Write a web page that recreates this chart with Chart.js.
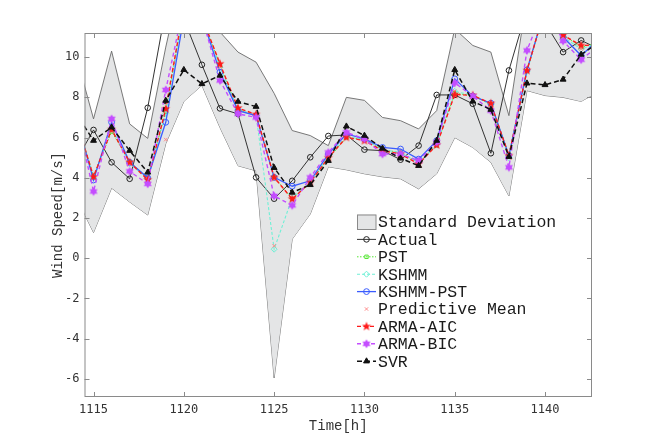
<!DOCTYPE html>
<html>
<head>
<meta charset="utf-8">
<script src="https://cdn.jsdelivr.net/npm/chart.js@4.4.0/dist/chart.umd.min.js"></script>
<style>
  html, body { margin: 0; padding: 0; background: #ffffff; }
  #windChart { display: block; }
</style>
</head>
<body>
<canvas id="windChart" width="654" height="446"></canvas>
<script>
  // Hours shown on the x axis (first and last lie just outside the view and get clipped)
  const hours = [1114, 1115, 1116, 1117, 1118, 1119, 1120, 1121, 1122, 1123,
                 1124, 1125, 1126, 1127, 1128, 1129, 1130, 1131, 1132, 1133,
                 1134, 1135, 1136, 1137, 1138, 1139, 1140, 1141, 1142, 1143];

  const actual   = [4.8, 6.38, 4.77, 3.95, 7.48, 12.4, 11.9, 9.62, 7.45, 7.18,
                    4.02, 2.96, 3.85, 5.02, 6.08, 6.13, 5.4, 5.35, 4.9, 5.6,
                    8.12, 8.12, 7.68, 5.22, 9.34, 12.4, 11.7, 10.25, 10.83, 10.4];
  const pst      = [7.0, 4.1, 6.3, 4.8, 4.0, 7.3, 12.4, 12.0, 9.6, 7.4,
                    7.1, 4.05, 2.95, 3.8, 4.95, 6.0, 5.9, 5.4, 5.25, 4.75,
                    5.6, 8.2, 8.1, 7.65, 5.15, 9.3, 12.4, 11.1, 10.5, 10.7];
  const kshmm    = [7.0, 4.0, 6.5, 4.7, 3.95, 7.2, 12.4, 12.0, 9.5, 7.4,
                    7.1, 0.45, 3.0, 3.8, 5.05, 6.05, 5.9, 5.4, 5.25, 4.75,
                    5.65, 8.3, 8.1, 7.65, 5.0, 9.3, 12.4, 11.0, 10.4, 10.7];
  const kshmmPst = [7.1, 3.89, 6.76, 4.77, 4.0, 6.76, 12.0, 12.0, 9.25, 7.34,
                    7.09, 4.02, 3.58, 3.85, 5.18, 6.18, 5.93, 5.51, 5.43, 4.93,
                    5.85, 8.92, 8.06, 7.71, 5.1, 9.37, 12.4, 11.0, 10.08, 10.9];
  const predMean = [7.0, 4.0, 6.5, 4.7, 3.95, 5.9, 12.4, 12.0, 9.5, 7.4,
                    7.1, 0.62, 3.0, 3.8, 5.05, 6.05, 5.9, 5.4, 5.25, 4.75,
                    5.65, 8.3, 8.1, 7.65, 5.0, 9.3, 12.4, 11.0, 10.4, 10.7];
  const armaAic  = [7.0, 4.05, 6.4, 4.77, 3.9, 7.43, 12.5, 12.0, 9.67, 7.47,
                    7.15, 4.02, 2.94, 3.77, 5.0, 6.01, 5.85, 5.35, 5.18, 4.69,
                    5.63, 8.14, 8.1, 7.7, 5.1, 9.34, 12.4, 11.1, 10.58, 10.6];
  const armaBic  = [7.3, 3.32, 6.93, 4.32, 3.7, 8.37, 12.6, 12.0, 8.84, 7.18,
                    7.0, 3.1, 2.63, 4.02, 5.26, 6.26, 5.93, 5.18, 5.18, 4.85,
                    5.77, 8.72, 8.06, 7.34, 4.52, 10.33, 12.6, 10.8, 9.87, 10.6];
  const svr      = [7.25, 5.85, 6.51, 5.35, 4.27, 7.84, 9.37, 8.67, 9.09, 7.79,
                    7.54, 4.5, 3.27, 3.65, 4.85, 6.56, 6.1, 5.46, 4.97, 4.6,
                    5.85, 9.37, 7.8, 7.39, 5.05, 8.7, 8.62, 8.89, 10.13, 10.75];

  // Standard deviation band (upper / lower edge)
  const sdUpper  = [10.2, 6.93, 10.3, 6.68, 5.96, 10.5, 14.5, 13.5, 11.25, 10.25,
                    9.75, 8.2, 6.35, 6.1, 5.6, 8.0, 7.85, 7.0, 6.84, 6.43,
                    7.34, 11.4, 10.58, 10.25, 7.09, 13.0, 13.5, 13.5, 13.5, 13.5];
  const sdLower  = [3.1, 1.28, 3.49, 2.8, 2.15, 5.7, 7.8, 8.6, 6.5, 4.6,
                    4.35, -5.95, 0.95, 2.2, 4.55, 4.4, 4.2, 4.05, 3.95, 3.45,
                    4.2, 6.0, 5.51, 4.77, 3.1, 8.34, 8.09, 8.0, 7.8, 8.3];

  const xTickStep = 5;
  const yTickStep = 2;

  function toPoints(values) {
    return hours.map((h, i) => ({ x: h, y: values[i] }));
  }

  // filled star markers (ARMA-AIC five point, ARMA-BIC six point)
  function starMarker(spikes, outerR, innerR, color) {
    const size = Math.ceil(outerR * 2 + 2);
    const c = document.createElement('canvas');
    c.width = size;
    c.height = size;
    const g = c.getContext('2d');
    const cx = size / 2, cy = size / 2;
    g.beginPath();
    for (let i = 0; i < spikes * 2; i++) {
      const r = i % 2 === 0 ? outerR : innerR;
      const a = -Math.PI / 2 + i * Math.PI / spikes;
      const px = cx + r * Math.cos(a), py = cy + r * Math.sin(a);
      if (i === 0) g.moveTo(px, py); else g.lineTo(px, py);
    }
    g.closePath();
    g.fillStyle = color;
    g.fill();
    return c;
  }

  const redStar = starMarker(5, 4.8, 2.0, '#ff1a1a');
  const purpleStar = starMarker(6, 4.6, 2.7, '#c44dff');

  const MONO = '"Liberation Mono", "DejaVu Sans Mono", monospace';
  const TICK_FONT = '"DejaVu Sans Mono", monospace';

  // MATLAB-like box with inward tick marks on all four sides
  const boxPlugin = {
    id: 'axesBox',
    afterDatasetsDraw(chart) {
      const { ctx, chartArea: a, scales } = chart;
      ctx.save();
      ctx.strokeStyle = '#8a8a8a';
      ctx.lineWidth = 1;
      ctx.strokeRect(a.left + 0.5, a.top + 0.5, a.right - a.left - 1, a.bottom - a.top - 1);
      const len = 5;
      ctx.beginPath();
      scales.x.ticks.forEach(t => {
        const px = Math.round(scales.x.getPixelForValue(t.value)) + 0.5;
        ctx.moveTo(px, a.bottom); ctx.lineTo(px, a.bottom - len);
        ctx.moveTo(px, a.top); ctx.lineTo(px, a.top + len);
      });
      scales.y.ticks.forEach(t => {
        const py = Math.round(scales.y.getPixelForValue(t.value)) + 0.5;
        ctx.moveTo(a.left, py); ctx.lineTo(a.left + len, py);
        ctx.moveTo(a.right, py); ctx.lineTo(a.right - len, py);
      });
      ctx.stroke();
      ctx.restore();
    }
  };

  // legend drawn inside the axes, lower right
  const legendPlugin = {
    id: 'insideLegend',
    afterDraw(chart) {
      const { ctx, chartArea: a } = chart;
      const x0 = a.left + 272.5;
      const y0 = a.top + 189;
      const rowH = 17.4;
      ctx.save();
      ctx.font = '16.5px ' + MONO;
      ctx.textBaseline = 'middle';
      let row = 0;
      chart.data.datasets.forEach(ds => {
        if (ds.noLegend) return;
        const y = y0 + row * rowH;
        if (ds.fill) {
          ctx.fillStyle = ds.backgroundColor;
          ctx.fillRect(x0, y - 7.5, 19, 15);
          ctx.strokeStyle = '#8a8a8a';
          ctx.lineWidth = 1;
          ctx.strokeRect(x0 + 0.5, y - 7, 18.5, 14.5);
        } else {
          if (ds.showLine !== false) {
            ctx.beginPath();
            ctx.setLineDash(ds.borderDash || []);
            ctx.strokeStyle = ds.borderColor;
            ctx.lineWidth = ds.borderWidth;
            ctx.moveTo(x0, y);
            ctx.lineTo(x0 + 19, y);
            ctx.stroke();
            ctx.setLineDash([]);
          }
          ctx.strokeStyle = ds.pointBorderColor || ds.borderColor;
          ctx.fillStyle = ds.pointBackgroundColor || 'rgba(0,0,0,0)';
          ctx.lineWidth = ds.pointBorderWidth || 1;
          Chart.helpers.drawPoint(ctx, {
            pointStyle: ds.pointStyle,
            radius: ds.pointRadius,
            rotation: 0,
            borderWidth: ds.pointBorderWidth || 1
          }, x0 + 9.5, y);
        }
        ctx.fillStyle = '#1a1a1a';
        ctx.fillText(ds.label, x0 + 21, y + 1);
        row++;
      });
      ctx.restore();
    }
  };

  const datasets = [
    {
      label: 'Standard Deviation',
      data: toPoints(sdUpper),
      borderColor: '#6a6a6a',
      borderWidth: 0.9,
      backgroundColor: '#e4e5e6',
      fill: '+1',
      pointRadius: 0,
      order: 20
    },
    {
      label: 'sd lower',
      noLegend: true,
      data: toPoints(sdLower),
      borderColor: '#6a6a6a',
      borderWidth: 0.9,
      fill: false,
      pointRadius: 0,
      order: 21
    },
    {
      label: 'Actual',
      data: toPoints(actual),
      borderColor: '#333333',
      borderWidth: 1,
      pointStyle: 'circle',
      pointRadius: 2.8,
      pointBorderWidth: 1,
      pointBorderColor: '#222222',
      pointBackgroundColor: 'rgba(0,0,0,0)',
      fill: false,
      order: 8
    },
    {
      label: 'PST',
      data: toPoints(pst),
      borderColor: '#55e633',
      borderWidth: 1,
      borderDash: [1.5, 1.5],
      pointStyle: 'rect',
      pointRadius: 2.4,
      pointBorderWidth: 1,
      pointBackgroundColor: 'rgba(0,0,0,0)',
      fill: false,
      order: 7
    },
    {
      label: 'KSHMM',
      data: toPoints(kshmm),
      borderColor: '#6ff0d6',
      borderWidth: 1.1,
      borderDash: [3, 2],
      pointStyle: 'rectRot',
      pointRadius: 3,
      pointBorderWidth: 1,
      pointBackgroundColor: 'rgba(0,0,0,0)',
      fill: false,
      order: 6
    },
    {
      label: 'KSHMM-PST',
      data: toPoints(kshmmPst),
      borderColor: '#3a5cff',
      borderWidth: 1.3,
      pointStyle: 'circle',
      pointRadius: 2.9,
      pointBorderWidth: 1,
      pointBackgroundColor: 'rgba(0,0,0,0)',
      fill: false,
      order: 5
    },
    {
      label: 'Predictive Mean',
      data: toPoints(predMean),
      showLine: false,
      borderColor: '#ff8a8a',
      borderWidth: 1,
      pointStyle: 'crossRot',
      pointRadius: 2.4,
      pointBorderWidth: 1,
      fill: false,
      order: 4
    },
    {
      label: 'ARMA-AIC',
      data: toPoints(armaAic),
      borderColor: '#ff1a1a',
      borderWidth: 1.4,
      borderDash: [4, 2.5],
      pointStyle: redStar,
      pointRadius: 4,
      fill: false,
      order: 3
    },
    {
      label: 'ARMA-BIC',
      data: toPoints(armaBic),
      borderColor: '#c44dff',
      borderWidth: 1.4,
      borderDash: [4, 3],
      pointStyle: purpleStar,
      pointRadius: 4,
      fill: false,
      order: 2
    },
    {
      label: 'SVR',
      data: toPoints(svr),
      borderColor: '#111111',
      borderWidth: 1.5,
      borderDash: [5, 3],
      pointStyle: 'triangle',
      pointRadius: 3.4,
      pointBorderWidth: 1,
      pointBorderColor: '#111111',
      pointBackgroundColor: '#111111',
      fill: false,
      order: 1
    }
  ];

  new Chart(document.getElementById('windChart'), {
    type: 'line',
    data: { datasets },
    options: {
      responsive: false,
      animation: false,
      events: [],
      layout: { padding: { left: 0, top: 33, right: 62, bottom: 0 } },
      elements: { line: { tension: 0 } },
      scales: {
        x: {
          type: 'linear',
          min: 1114.5,
          max: 1142.6,
          grid: { display: false, drawTicks: false },
          border: { display: false },
          ticks: {
            stepSize: xTickStep,
            includeBounds: false,
            padding: 6,
            color: '#333333',
            font: { family: TICK_FONT, size: 12 },
            callback: v => String(v)
          },
          title: {
            display: true,
            text: 'Time[h]',
            color: '#333333',
            font: { family: MONO, size: 14 },
            padding: { top: 0, bottom: 11.6 }
          },
          afterFit(scale) { scale.height = 49; }
        },
        y: {
          type: 'linear',
          min: -6.9,
          max: 11.2,
          grid: { display: false, drawTicks: false },
          border: { display: false },
          ticks: {
            stepSize: yTickStep,
            includeBounds: false,
            padding: 5,
            color: '#333333',
            font: { family: TICK_FONT, size: 12 },
            callback: v => String(v)
          },
          title: {
            display: true,
            text: 'Wind Speed[m/s]',
            color: '#333333',
            font: { family: MONO, size: 14 },
            padding: { top: 49.6, bottom: 0 }
          },
          afterFit(scale) { scale.width = 84.5; }
        }
      },
      plugins: {
        legend: { display: false },
        tooltip: { enabled: false }
      }
    },
    plugins: [boxPlugin, legendPlugin]
  });
</script>
</body>
</html>
